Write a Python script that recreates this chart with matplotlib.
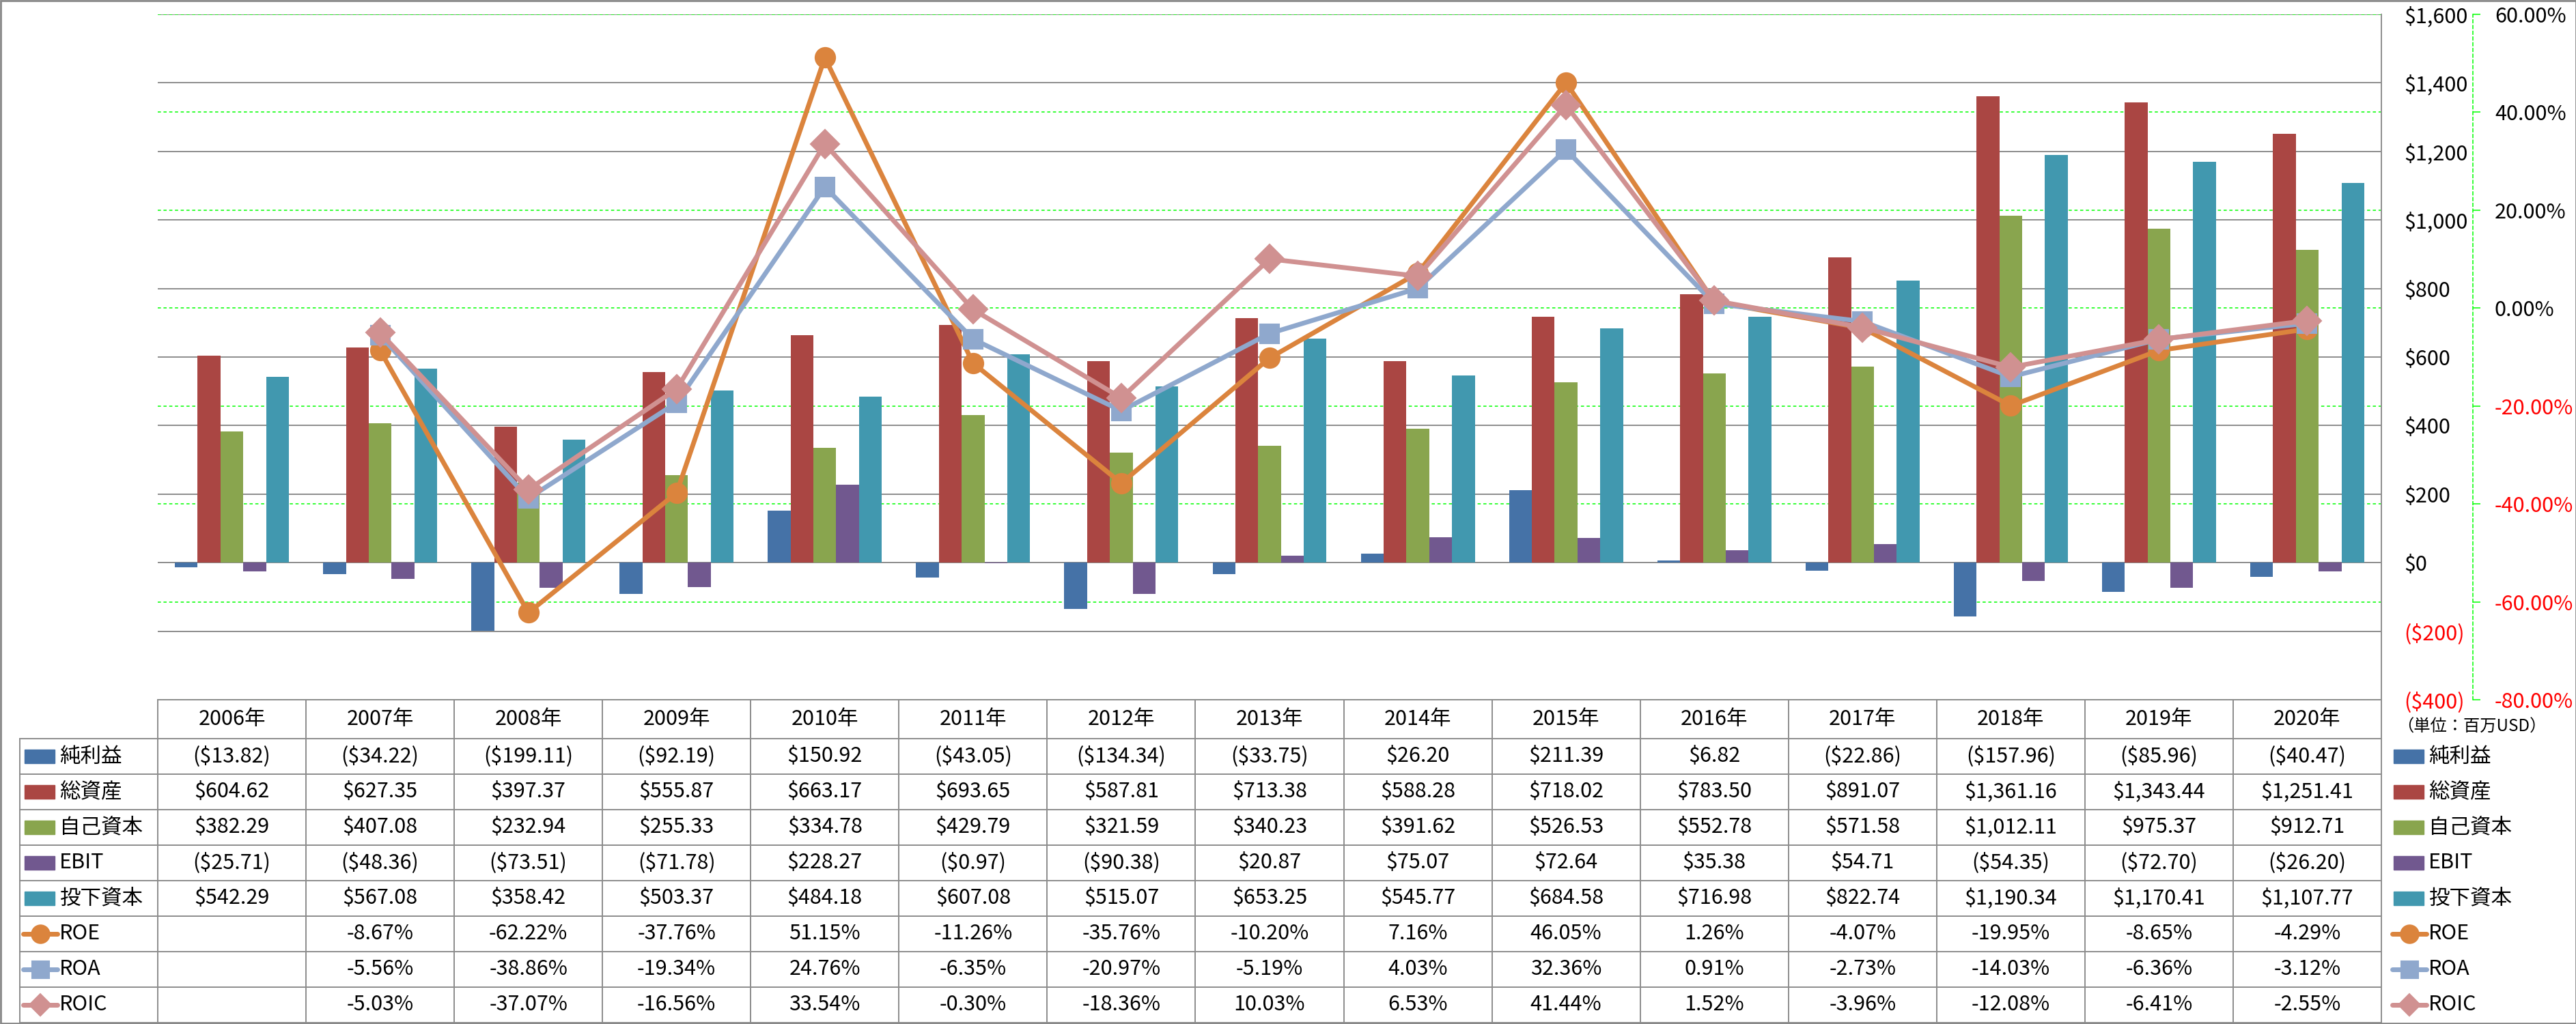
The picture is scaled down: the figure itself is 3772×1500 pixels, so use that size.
import numpy as np
import matplotlib
matplotlib.use('Agg')
import matplotlib.pyplot as plt
from matplotlib.patches import Rectangle
from matplotlib.lines import Line2D
from matplotlib.transforms import blended_transform_factory

plt.rcParams['font.family'] = ['Noto Sans CJK JP', 'DejaVu Sans']

years = ['2006年', '2007年', '2008年', '2009年', '2010年', '2011年', '2012年', '2013年',
         '2014年', '2015年', '2016年', '2017年', '2018年', '2019年', '2020年']
net_income = [-13.82, -34.22, -199.11, -92.19, 150.92, -43.05, -134.34, -33.75,
              26.20, 211.39, 6.82, -22.86, -157.96, -85.96, -40.47]
total_assets = [604.62, 627.35, 397.37, 555.87, 663.17, 693.65, 587.81, 713.38,
                588.28, 718.02, 783.50, 891.07, 1361.16, 1343.44, 1251.41]
equity = [382.29, 407.08, 232.94, 255.33, 334.78, 429.79, 321.59, 340.23,
          391.62, 526.53, 552.78, 571.58, 1012.11, 975.37, 912.71]
ebit = [-25.71, -48.36, -73.51, -71.78, 228.27, -0.97, -90.38, 20.87,
        75.07, 72.64, 35.38, 54.71, -54.35, -72.70, -26.20]
invested = [542.29, 567.08, 358.42, 503.37, 484.18, 607.08, 515.07, 653.25,
            545.77, 684.58, 716.98, 822.74, 1190.34, 1170.41, 1107.77]
roe = [np.nan, -8.67, -62.22, -37.76, 51.15, -11.26, -35.76, -10.20,
       7.16, 46.05, 1.26, -4.07, -19.95, -8.65, -4.29]
roa = [np.nan, -5.56, -38.86, -19.34, 24.76, -6.35, -20.97, -5.19,
       4.03, 32.36, 0.91, -2.73, -14.03, -6.36, -3.12]
roic = [np.nan, -5.03, -37.07, -16.56, 33.54, -0.30, -18.36, 10.03,
        6.53, 41.44, 1.52, -3.96, -12.08, -6.41, -2.55]

bar_names = ['純利益', '総資産', '自己資本', 'EBIT', '投下資本']
bar_data = [net_income, total_assets, equity, ebit, invested]
bar_colors = ['#4572A7', '#AA4643', '#89A54E', '#71588F', '#4198AF']
line_names = ['ROE', 'ROA', 'ROIC']
line_data = [roe, roa, roic]
line_colors = ['#DB843D', '#8FA8CD', '#D09191']
line_markers = ['o', 's', 'D']
line_ms = [21, 20, 21]
key_ms = [19, 18, 16]

usd_ticks = list(range(-400, 1601, 200))
pct_ticks = list(range(-80, 61, 20))

W, H = 3773, 1500
L, R, T, B = 231, 3487, 21, 1025
HDR_BOT = 1082
ROW_H = 52
GRAY = '#8C8C8C'
FS = 22


def fmt_usd(v, dec=2):
    s = f"${abs(v):,.{dec}f}"
    return f"({s})" if v < 0 else s


fig = plt.figure(figsize=(W / 100, H / 100), dpi=100)
ax = fig.add_axes([L / W, 1 - B / H, (R - L) / W, (B - T) / H])
ax2 = ax.twinx()

x = np.arange(len(years))
w = 1 / 6.5
for k, (vals, c) in enumerate(zip(bar_data, bar_colors)):
    ax.bar(x + (k - 2) * w, vals, width=w, color=c, zorder=2)

ax.set_xlim(-0.5, len(years) - 0.5)
ax.set_ylim(-400, 1600)
ax2.set_ylim(-80, 60)
ax.set_xticks([])

# gray grid (primary) and green dashed grid (secondary), both behind bars
for t in usd_ticks:
    ax.axhline(t, color=GRAY, lw=1.4, zorder=1)
tr = blended_transform_factory(ax.transAxes, ax2.transData)
for p in pct_ticks:
    ax.add_line(Line2D([0, 1], [p, p], transform=tr, color='#00FF00', lw=1.1,
                       ls=(0, (3, 2.5)), zorder=1.5))

for s in ax.spines.values():
    s.set_visible(False)
ax.spines['right'].set_visible(True)
ax.spines['right'].set_color(GRAY)
ax.spines['right'].set_linewidth(1.4)

ax.yaxis.tick_right()
ax.set_yticks(usd_ticks, [fmt_usd(t, 0) for t in usd_ticks])
ax.tick_params(axis='y', length=0, pad=24, labelsize=FS)
for lab, t in zip(ax.get_yticklabels(), usd_ticks):
    lab.set_color('red' if t < 0 else 'black')

for s in ax2.spines.values():
    s.set_visible(False)
sp = ax2.spines['right']
sp.set_visible(True)
sp.set_position(('outward', 96.5))
sp.set_color('#00FF00')
sp.set_linewidth(1.1)
sp.set_linestyle((0, (3, 2.5)))
ax2.set_yticks(pct_ticks, [f"{p:.2f}%" for p in pct_ticks])
ax2.tick_params(axis='y', direction='out', length=8, width=1.1, color='#00FF00',
                pad=15, labelsize=FS)
for lab, p in zip(ax2.get_yticklabels(), pct_ticks):
    lab.set_color('red' if p < 0 else 'black')

for i, (vals, c, m, ms) in enumerate(zip(line_data, line_colors, line_markers, line_ms)):
    ax2.plot(x, vals, color=c, lw=5, marker=m, ms=ms, mfc=c, mec=c, mew=1.5,
             solid_joinstyle='round', zorder=3 + i)

# data table drawn in pixel coordinates
ov = fig.add_axes([0, 0, 1, 1])
ov.set_xlim(0, W)
ov.set_ylim(H, 0)
ov.axis('off')

colw = (R - L) / len(years)
nrows = len(bar_names) + len(line_names)
bottom = HDR_BOT + nrows * ROW_H

ov.plot([L, R], [B, B], color=GRAY, lw=1.4)
for j in range(nrows + 1):
    yy = HDR_BOT + j * ROW_H
    ov.plot([29, R], [yy, yy], color=GRAY, lw=1.4)
ov.plot([29, 29], [HDR_BOT, bottom], color=GRAY, lw=1.4)
for i in range(len(years) + 1):
    xx = L + i * colw
    ov.plot([xx, xx], [B, bottom], color=GRAY, lw=1.4)

for i, yr in enumerate(years):
    ov.text(L + (i + 0.5) * colw, (B + HDR_BOT) / 2, yr, ha='center', va='center', fontsize=FS)

rows = []
for name, vals, c in zip(bar_names, bar_data, bar_colors):
    rows.append((name, [fmt_usd(v) for v in vals], ('bar', c, None, None)))
for name, vals, c, m, kms in zip(line_names, line_data, line_colors, line_markers, key_ms):
    rows.append((name, ['' if np.isnan(v) else f"{v:.2f}%" for v in vals], ('line', c, m, kms)))


def draw_key(x0, yc, key):
    kind, c, m, kms = key
    if kind == 'bar':
        ov.add_patch(Rectangle((x0, yc - 10), 44, 20, color=c))
    else:
        ov.plot([x0 - 2, x0 + 48], [yc, yc], color=c, lw=5, solid_capstyle='round')
        ov.plot([x0 + 23], [yc], marker=m, ms=kms, mfc=c, mec=c, mew=1.5)


for j, (name, texts, key) in enumerate(rows):
    yc = HDR_BOT + (j + 0.5) * ROW_H
    draw_key(36, yc, key)
    ov.text(87, yc, name, ha='left', va='center', fontsize=FS)
    for i, s in enumerate(texts):
        ov.text(L + (i + 0.5) * colw, yc, s, ha='center', va='center', fontsize=FS)
    draw_key(3505, yc, key)
    ov.text(3556, yc, name, ha='left', va='center', fontsize=FS)

ov.text(3510, 1065, '（単位：百万USD）', ha='left', va='center', fontsize=17.5)
ov.add_patch(Rectangle((1, 1), W - 2, H - 2, fill=False, ec='#888888', lw=2))

fig.savefig('out.png', dpi=100)
